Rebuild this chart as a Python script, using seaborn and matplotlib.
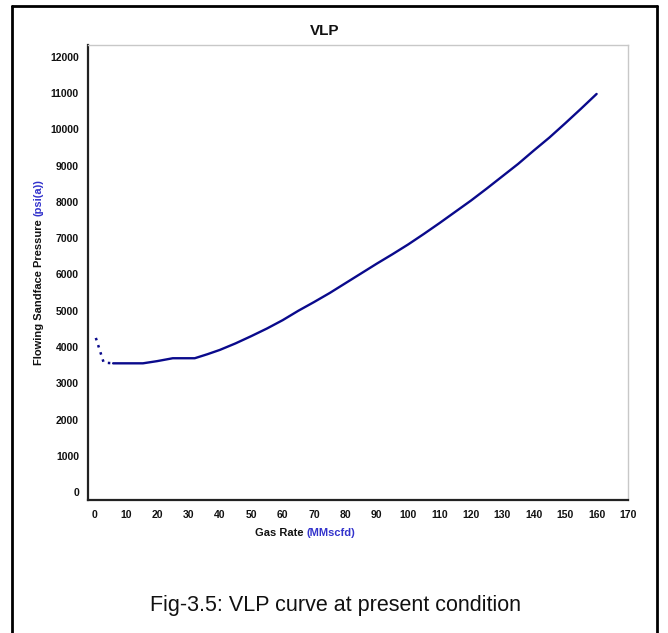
import matplotlib
matplotlib.use("Agg")
import matplotlib.pyplot as plt
import seaborn as sns
import pandas as pd

# Data
dotted_rate = [0.5, 3.0, 6.0]
dotted_pressure = [4250, 3570, 3550]

gas_rate = [6, 10, 15.5, 20, 25, 32, 36, 40, 45, 50, 55, 60, 65, 70, 75, 80, 85,
            90, 95, 100, 105, 110, 115, 120, 125, 130, 135, 140, 145, 150, 155, 160]
pressure = [3550, 3550, 3550, 3610, 3690, 3690, 3800, 3920, 4100, 4300, 4510, 4740,
            5000, 5240, 5490, 5760, 6030, 6300, 6560, 6830, 7120, 7420, 7730, 8040,
            8370, 8710, 9050, 9420, 9780, 10170, 10570, 10980]

x_ticks = list(range(0, 171, 10))
y_ticks = list(range(0, 12001, 1000))

title = "VLP"
x_label = ("Gas Rate ", "(MMscfd)")
y_label = ("Flowing Sandface Pressure ", "(psi(a))")
caption = "Fig-3.5: VLP curve at present condition"

sns.set_style("white")
plt.rcParams['font.family'] = ['Liberation Sans', 'DejaVu Sans']

W, H = 668, 633
fig = plt.figure(figsize=(W / 100, H / 100), dpi=100)

def fx(px):
    return px / W

def fy(py):
    return 1 - py / H

ax = fig.add_axes([fx(88), fy(500), (628 - 88) / W, (500 - 45) / H])

line_color = "#0a0a8c"
df_main = pd.DataFrame({"rate": gas_rate, "p": pressure})
df_dot = pd.DataFrame({"rate": dotted_rate, "p": dotted_pressure})
sns.lineplot(data=df_dot, x="rate", y="p", ax=ax, color=line_color,
             linestyle=(0, (1, 2)), linewidth=1.8, sort=False)
sns.lineplot(data=df_main, x="rate", y="p", ax=ax, color=line_color,
             linewidth=1.7, sort=False)

ax.set_xlim(-2, 170)
ax.set_ylim(-220, 12330)
ax.set_xticks(x_ticks)
ax.set_yticks(y_ticks)
ax.set_xlabel("")
ax.set_ylabel("")
for lab in ax.get_xticklabels() + ax.get_yticklabels():
    lab.set_fontweight("bold")
    lab.set_fontsize(7.5)
ax.tick_params(axis="both", colors="#999999", labelcolor="#111111",
               direction="inout", length=5, width=0.8)
ax.tick_params(axis="x", pad=5)
ax.tick_params(axis="y", pad=4)

for side in ["top", "right"]:
    ax.spines[side].set_color("#c8c8c8")
    ax.spines[side].set_linewidth(1.0)
for side in ["left", "bottom"]:
    ax.spines[side].set_color("#222222")
    ax.spines[side].set_linewidth(1.6)

# Title
fig.text(fx(325), fy(31), title, ha="center", va="center",
         fontsize=11, fontweight="bold", color="#111111")

# Multi-coloured axis labels
fig.canvas.draw()
renderer = fig.canvas.get_renderer()
t1 = fig.text(fx(255), fy(533), x_label[0], ha="left", va="center",
              fontsize=8, fontweight="bold", color="#111111")
bb = t1.get_window_extent(renderer)
fig.text(bb.x1 / W, fy(533), x_label[1], ha="left", va="center",
         fontsize=8, fontweight="bold", color="#3333cc")

t2 = fig.text(fx(39), fy(365), y_label[0], ha="center", va="bottom",
              rotation=90, fontsize=8, fontweight="bold", color="#111111")
bb2 = t2.get_window_extent(renderer)
fig.text(fx(39), bb2.y1 / H, y_label[1], ha="center", va="bottom",
         rotation=90, fontsize=8, fontweight="bold", color="#3333cc")

# Caption
fig.text(fx(335), fy(606), caption, ha="center", va="center",
         fontsize=15.5, color="#111111")

# Page frame (left, top, right)
frame_kw = dict(color="black", linewidth=2, transform=fig.transFigure)
fig.add_artist(plt.Line2D([fx(12), fx(12)], [0, fy(6)], **frame_kw))
fig.add_artist(plt.Line2D([fx(12), fx(657)], [fy(6), fy(6)], **frame_kw))
fig.add_artist(plt.Line2D([fx(657), fx(657)], [fy(6), 0], **frame_kw))

fig.savefig("out.png", dpi=100)
